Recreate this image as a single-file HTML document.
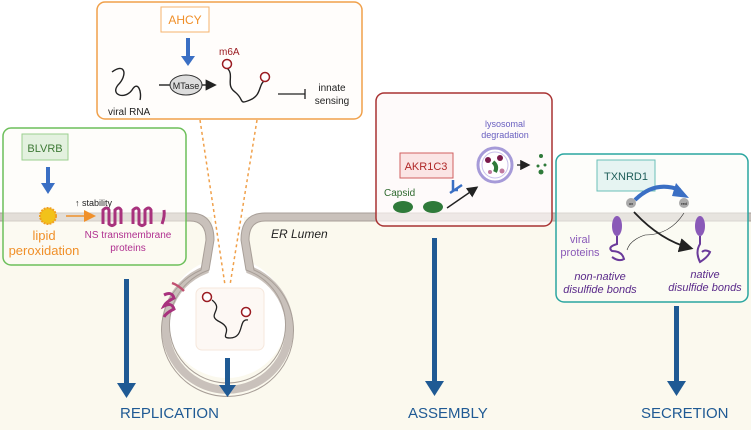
<!DOCTYPE html>
<html><head><meta charset="utf-8"><style>
html,body{margin:0;padding:0;background:#fff}
svg{display:block}
text{font-family:"Liberation Sans",sans-serif}
</style></head><body>
<svg width="751" height="430" viewBox="0 0 751 430" xmlns="http://www.w3.org/2000/svg">
<defs>
<marker id="ah" markerWidth="8" markerHeight="8" refX="6" refY="4" orient="auto"><path d="M0,0 L8,4 L0,8z" fill="#222"/></marker>
<marker id="ao" markerWidth="8" markerHeight="8" refX="6" refY="4" orient="auto"><path d="M0,0 L8,4 L0,8z" fill="#f0902a"/></marker>
</defs>
<rect x="0" y="217" width="751" height="213" fill="#fbf9ee"/>
<circle cx="227" cy="318" r="60" fill="#fff"/>
<rect x="212" y="217" width="32" height="50" fill="#fff"/>
<g fill="none" stroke="#c9c1bb" stroke-width="8">
<path d="M0,217 H190 Q210,217 210,240 L205,270 A62,62 0 1 0 250,270 L245,240 Q245,217 265,217 H751"/>
</g>
<g fill="none" stroke="#a89f98" stroke-width="1">
<path d="M0,213 H190 Q214,213 214,240 L209,270 A58,58 0 1 0 246,270 L241,240 Q241,213 265,213 H751"/>
<path d="M0,221 H190 Q206,221 206,240 L201,270 A66,66 0 1 0 254,270 L249,240 Q249,221 265,221 H751"/>
</g>
<rect x="196" y="288" width="68" height="62" rx="6" fill="#fdf8f4" stroke="#f6e7dc"/>
<path d="M212,300 C225,310 205,315 220,322 C235,330 218,338 230,338 C245,338 238,318 248,320" fill="none" stroke="#222" stroke-width="1.3"/>
<circle cx="207" cy="297" r="4.5" fill="#fff" stroke="#9b1c22" stroke-width="1.5"/>
<circle cx="246" cy="312" r="4.5" fill="#fff" stroke="#9b1c22" stroke-width="1.5"/>
<path d="M164,295 q8,-4 10,3 q-8,4 -10,8 q8,-4 10,3 q-8,4 -10,8" fill="none" stroke="#a8327d" stroke-width="3"/>
<path d="M172,283 q6,2 12,8" fill="none" stroke="#c05070" stroke-width="2.5"/>
<line x1="200" y1="120" x2="225" y2="285" stroke="#f0a04a" stroke-width="1.5" stroke-dasharray="3,3"/>
<line x1="257" y1="120" x2="230" y2="285" stroke="#f0a04a" stroke-width="1.5" stroke-dasharray="3,3"/>
<text x="271" y="238" font-size="12" font-style="italic" fill="#222">ER Lumen</text>

<rect x="97" y="2" width="265" height="117" rx="8" fill="#fffdfb" stroke="#f0a04a" stroke-width="1.5"/>
<rect x="161" y="7" width="48" height="25" fill="#fff" stroke="#f5b36e"/>
<text x="185" y="24" font-size="12" fill="#f0902a" text-anchor="middle">AHCY</text>
<path d="M188,38 V58" stroke="#3a6fc4" stroke-width="4"/><path d="M181,56 L188,66 L195,56z" fill="#3a6fc4"/>
<path d="M112,72 C125,62 128,75 118,85 C110,95 125,100 132,90 C138,80 142,92 140,100" fill="none" stroke="#222" stroke-width="1.4"/>
<text x="108" y="115" font-size="10" fill="#222">viral RNA</text>
<line x1="159" y1="85" x2="170" y2="85" stroke="#222" stroke-width="1.4"/>
<ellipse cx="186" cy="85" rx="16" ry="10" fill="#ddd" stroke="#333"/>
<text x="186" y="89" font-size="9" fill="#222" text-anchor="middle">MTase</text>
<line x1="202" y1="85" x2="214" y2="85" stroke="#222" stroke-width="1.4" marker-end="url(#ah)"/>
<path d="M227,68 C235,75 225,85 235,92 C245,100 238,105 250,100 C262,95 258,85 265,80" fill="none" stroke="#222" stroke-width="1.4"/>
<circle cx="227" cy="64" r="4.5" fill="#fff" stroke="#9b1c22" stroke-width="1.5"/>
<circle cx="265" cy="77" r="4.5" fill="#fff" stroke="#9b1c22" stroke-width="1.5"/>
<text x="219" y="55" font-size="10" fill="#9b1c22">m6A</text>
<line x1="278" y1="94" x2="305" y2="94" stroke="#222" stroke-width="1.3"/><line x1="305" y1="89" x2="305" y2="99" stroke="#222" stroke-width="1.3"/>
<text x="332" y="91" font-size="10" fill="#222" text-anchor="middle">innate</text>
<text x="332" y="104" font-size="10" fill="#222" text-anchor="middle">sensing</text>

<rect x="3" y="128" width="183" height="137" rx="8" fill="#fdfbf5" fill-opacity="0.5" stroke="#6cbf5a" stroke-width="1.5"/>
<rect x="22" y="134" width="46" height="26" fill="#e3f1df" stroke="#9bcf8f"/>
<text x="45" y="152" font-size="11" fill="#3e7a36" text-anchor="middle">BLVRB</text>
<path d="M48,167 V185" stroke="#3a6fc4" stroke-width="4"/><path d="M41,183 L48,194 L55,183z" fill="#3a6fc4"/>
<circle cx="48" cy="216" r="8" fill="#f2c21a" stroke="#f0a020" stroke-width="2" stroke-dasharray="2,1"/>
<line x1="66" y1="216" x2="93" y2="216" stroke="#f0902a" stroke-width="1.5" marker-end="url(#ao)"/>
<text x="75" y="206" font-size="9" fill="#222">↑ stability</text>
<g fill="none" stroke="#a8327d" stroke-width="3">
<path d="M103,224 V210 q4,-4 6,0 V224 q3,3 6,0 V210 q4,-4 6,0 V224"/>
<path d="M133,224 V210 q4,-4 6,0 V224 q3,3 6,0 V210 q4,-4 6,0 V224"/>
<path d="M162,224 q3,-8 2,-14"/>
</g>
<text x="44" y="240" font-size="13" fill="#f0902a" text-anchor="middle">lipid</text>
<text x="44" y="255" font-size="13" fill="#f0902a" text-anchor="middle">peroxidation</text>
<text x="128" y="238" font-size="10" fill="#b03090" text-anchor="middle">NS transmembrane</text>
<text x="128" y="251" font-size="10" fill="#b03090" text-anchor="middle">proteins</text>

<rect x="376" y="93" width="176" height="133" rx="8" fill="#fdf8f8" fill-opacity="0.7" stroke="#a83232" stroke-width="1.5"/>
<rect x="400" y="153" width="53" height="25" fill="#fbe5e5" stroke="#d06060"/>
<text x="426" y="170" font-size="11" fill="#b02828" text-anchor="middle">AKR1C3</text>
<text x="384" y="196" font-size="10" fill="#2f6a2f">Capsid</text>
<ellipse cx="403" cy="207" rx="10" ry="6" fill="#2f7a3a"/>
<ellipse cx="433" cy="207" rx="10" ry="6" fill="#2f7a3a"/>
<line x1="447" y1="208" x2="476" y2="188" stroke="#222" stroke-width="1.4" marker-end="url(#ah)"/>
<path d="M453,180 V190 H458" fill="none" stroke="#3a6fc4" stroke-width="2.5"/>
<line x1="450" y1="193" x2="462" y2="185" stroke="#3a6fc4" stroke-width="2.5"/>
<circle cx="495" cy="165" r="17" fill="#fff" stroke="#a69ad8" stroke-width="3"/>
<circle cx="495" cy="165" r="13" fill="#fff" stroke="#c8c0ea" stroke-width="1"/>
<circle cx="488" cy="160" r="3" fill="#7a1a4a"/><circle cx="500" cy="158" r="3" fill="#7a1a4a"/>
<circle cx="490" cy="172" r="2" fill="#c07aa0"/><circle cx="502" cy="171" r="2.5" fill="#c07aa0"/>
<path d="M493,162 q5,4 2,10" stroke="#2f7a3a" stroke-width="4" fill="none"/>
<text x="505" y="127" font-size="9" fill="#6a60c0" text-anchor="middle">lysosomal</text>
<text x="505" y="138" font-size="9" fill="#6a60c0" text-anchor="middle">degradation</text>
<line x1="517" y1="165" x2="528" y2="165" stroke="#222" stroke-width="1.3" marker-end="url(#ah)"/>
<circle cx="541" cy="156" r="2" fill="#2f7a3a"/><circle cx="538" cy="166" r="1.5" fill="#2f7a3a"/><circle cx="541" cy="172" r="2.5" fill="#2f7a3a"/><circle cx="545" cy="165" r="1.5" fill="#2f7a3a"/>

<rect x="556" y="154" width="192" height="148" rx="8" fill="#fbfbf6" fill-opacity="0.6" stroke="#2aa6a0" stroke-width="1.5"/>
<rect x="597" y="160" width="58" height="31" fill="#e6f4f2" stroke="#6abfb8"/>
<text x="626" y="180" font-size="11" fill="#1f5e5a" text-anchor="middle">TXNRD1</text>
<path d="M635,200 Q655,180 680,190" fill="none" stroke="#3a6fc4" stroke-width="4"/>
<path d="M676,183 L689,198 L672,196z" fill="#3a6fc4"/>
<circle cx="631" cy="203" r="5" fill="#aaa"/><text x="631" y="205" font-size="4" text-anchor="middle">ox</text>
<circle cx="684" cy="203" r="5" fill="#aaa"/><text x="684" y="205" font-size="4" text-anchor="middle">red</text>
<path d="M634,212 Q660,240 690,248" fill="none" stroke="#222" stroke-width="1.8" marker-end="url(#ah)"/>
<path d="M684,213 Q670,235 645,235 Q630,240 627,250" fill="none" stroke="#222" stroke-width="0.6"/>
<g fill="#8a5ab8"><ellipse cx="617" cy="226" rx="5" ry="10"/><ellipse cx="700" cy="226" rx="5" ry="10"/></g>
<g fill="none" stroke="#6a3a9a" stroke-width="2"><path d="M617,236 v8 q-10,3 -5,7 q10,0 12,8 q-5,3 -12,-2"/><path d="M700,236 v8 q-5,8 0,18 q8,-5 10,-10 q-5,-3 -8,0"/></g>
<text x="580" y="243" font-size="11" fill="#8a5ab8" text-anchor="middle">viral</text>
<text x="580" y="256" font-size="11" fill="#8a5ab8" text-anchor="middle">proteins</text>
<text x="600" y="280" font-size="11" font-style="italic" fill="#5a2a8a" text-anchor="middle">non-native</text>
<text x="600" y="293" font-size="11" font-style="italic" fill="#5a2a8a" text-anchor="middle">disulfide bonds</text>
<text x="705" y="278" font-size="11" font-style="italic" fill="#5a2a8a" text-anchor="middle">native</text>
<text x="705" y="291" font-size="11" font-style="italic" fill="#5a2a8a" text-anchor="middle">disulfide bonds</text>

<g fill="#1f5a94">
<rect x="124" y="279" width="5" height="106"/><path d="M117,383 L136,383 L126.5,398z"/>
<rect x="225" y="358" width="5" height="30"/><path d="M219,385 L236,385 L227.5,397z"/>
<rect x="432" y="238" width="5" height="145"/><path d="M425,381 L444,381 L434.5,396z"/>
<rect x="674" y="306" width="5" height="77"/><path d="M667,381 L686,381 L676.5,396z"/>
</g>
<g font-size="15" fill="#1f5a94">
<text x="120" y="418">REPLICATION</text>
<text x="408" y="418">ASSEMBLY</text>
<text x="641" y="418">SECRETION</text>
</g>
</svg>
</body></html>
